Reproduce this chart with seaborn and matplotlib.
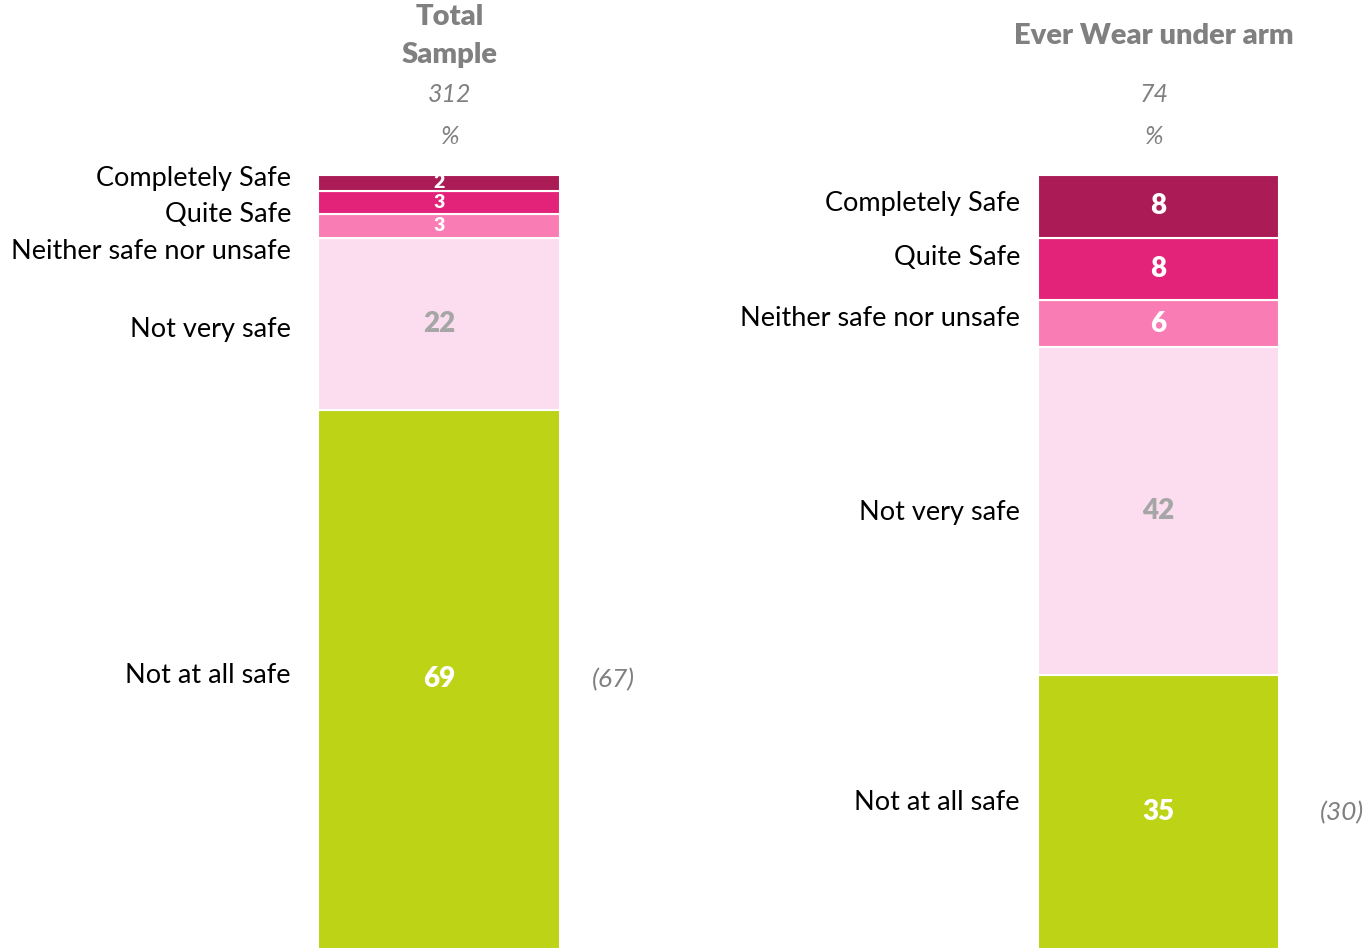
import numpy as np
import matplotlib.pyplot as plt
import matplotlib.transforms as mtransforms
import seaborn as sns
import pandas as pd

sns.set_theme(style='white')
plt.rcParams['font.family'] = ['Lato', 'DejaVu Sans']

# data (bottom to top)
categories = ['Not at all safe', 'Not very safe', 'Neither safe nor unsafe', 'Quite Safe', 'Completely Safe']
total_sample = [69, 22, 3, 3, 2]
ever_wear = [35, 42, 6, 8, 8]
panels = ['Total\nSample', 'Ever Wear under arm']
bases = ['312', '74']
compare = ['(67)', '(30)']

colors = ['#BDD316', '#FCDDF0', '#F97DB4', '#E32379', '#AB1C56']
value_colors = ['white', '#A6A6A6', 'white', 'white', 'white']
grey = '#808080'

# label heights (data units) where the left-hand category labels sit
label_y = [
    [35.0, 79.3, 89.2, 93.9, 98.6],
    [18.8, 55.8, 80.7, 88.4, 95.3],
]

fig = plt.figure(figsize=(13.67, 9.49), dpi=100)
axes = [
    fig.add_axes([318 / 1367, 0, 242 / 1367, 774 / 949]),
    fig.add_axes([1038 / 1367, 0, 241 / 1367, 774 / 949]),
]
label_x = [-0.112, -0.075]
header_x = [450 / 1367, 1154 / 1367]
header_y = [36 / 949, 36 / 949]
compare_x = [1.22, 1.26]

for i, (ax, values) in enumerate(zip(axes, [total_sample, ever_wear])):
    bottoms = np.concatenate([[0], np.cumsum(values)[:-1]])
    for cat, val, bot, col in zip(categories, values, bottoms, colors):
        df = pd.DataFrame({'panel': [panels[i]], 'value': [val]})
        sns.barplot(data=df, x='panel', y='value', bottom=bot, color=col, width=1.0,
                    saturation=1, edgecolor='white', linewidth=1.5, ax=ax)
    ax.set_xlim(-0.5, 0.5)
    ax.set_ylim(0, sum(values))
    ax.axis('off')

    trans = mtransforms.blended_transform_factory(ax.transAxes, ax.transData)
    for cat, val, bot, vc, ly in zip(categories, values, bottoms, value_colors, label_y[i]):
        # thin slices get a smaller number so it stays inside its band
        fs = 20 if val >= 5 else 14
        ax.text(0, bot + val / 2, str(val), ha='center', va='center', color=vc,
                fontsize=fs, fontweight='heavy')
        ax.text(label_x[i], ly, cat, transform=trans, ha='right', va='center',
                fontsize=19.5, color='black')

    # figure in brackets beside the bottom segment
    ax.text(compare_x[i], values[0] / 2, compare[i], transform=trans, ha='center',
            va='center', fontsize=19, style='italic', color=grey)

    fig.text(header_x[i], 1 - header_y[i], panels[i], ha='center', va='center',
             fontsize=21, fontweight='heavy', color=grey, linespacing=1.55)
    fig.text(header_x[i], 1 - 95 / 949, bases[i], ha='center', va='center',
             fontsize=18, style='italic', color=grey)
    fig.text(header_x[i], 1 - 137 / 949, '%', ha='center', va='center',
             fontsize=18, style='italic', color=grey)

fig.savefig('out.png', dpi=100)
